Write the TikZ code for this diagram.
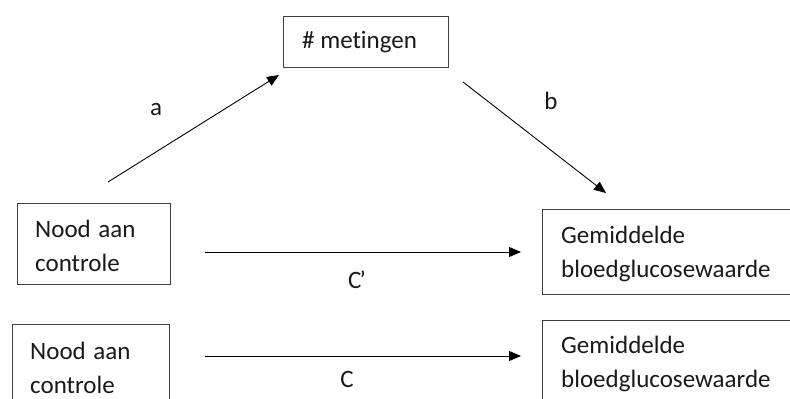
\documentclass[tikz,border=0pt]{standalone}
\usepackage{fontspec}
\setmainfont{Carlito}[Ligatures=CommonOff]
\usetikzlibrary{arrows.meta}
\begin{document}
\begin{tikzpicture}[x=1pt,y=-1pt,
  box/.style={draw=black!75, line width=1pt, rectangle, inner sep=0, anchor=north west},
  lbl/.style={font=\fontsize{25}{34}\selectfont, inner sep=0, anchor=west, align=left, text=black!90},
  tag/.style={font=\fontsize{25}{29}\selectfont, inner sep=0, text=black!90},
  arr/.style={line width=0.9pt, -{Triangle[length=12pt,width=10pt]}}]
\useasboundingbox (0,0) rectangle (790,399);
\clip (0,0) rectangle (790,399);
% boxes
\node[box, minimum width=165pt, minimum height=51pt] (mbox) at (283,16) {};
\node[box, minimum width=153pt, minimum height=81pt] (n1box) at (17,203) {};
\node[box, minimum width=157pt, minimum height=90pt] (n2box) at (12,324) {};
\node[box, minimum width=260pt, minimum height=85pt] (g1box) at (542,209) {};
\node[box, minimum width=260pt, minimum height=90pt] (g2box) at (542,320) {};
% texts
\node[lbl] (mtxt) at (302,42) {\# metingen};
\node[lbl] (n1txt) at (35,246) {Nood\hspace{2pt} aan\\controle};
\node[lbl] (n2txt) at (30,368) {Nood\hspace{2pt} aan\\controle};
\node[lbl] (g1txt) at (561,254) {Gemiddelde\\bloedglucosewaarde};
\node[lbl] (g2txt) at (561,364) {Gemiddelde\\bloedglucosewaarde};
% arrow end points
\coordinate (a0) at (108,182);
\coordinate (a1) at (279,75);
\coordinate (b0) at (463,82);
\coordinate (b1) at (606,193);
\coordinate (c0) at (205,252);
\coordinate (c1) at (521,252);
\coordinate (d0) at (205,356);
\coordinate (d1) at (521,356);
\draw[arr] (a0) -- (a1);
\draw[arr] (b0) -- (b1);
\draw[arr] (c0) -- (c1);
\draw[arr] (d0) -- (d1);
% labels
\node[tag] (la) at (156,110) {a};
\node[tag] (lb) at (551,101) {b};
\node[tag] (lc1) at (357,280) {C\kern-2pt’};
\node[tag] (lc) at (347,379) {C};
\end{tikzpicture}
\end{document}
